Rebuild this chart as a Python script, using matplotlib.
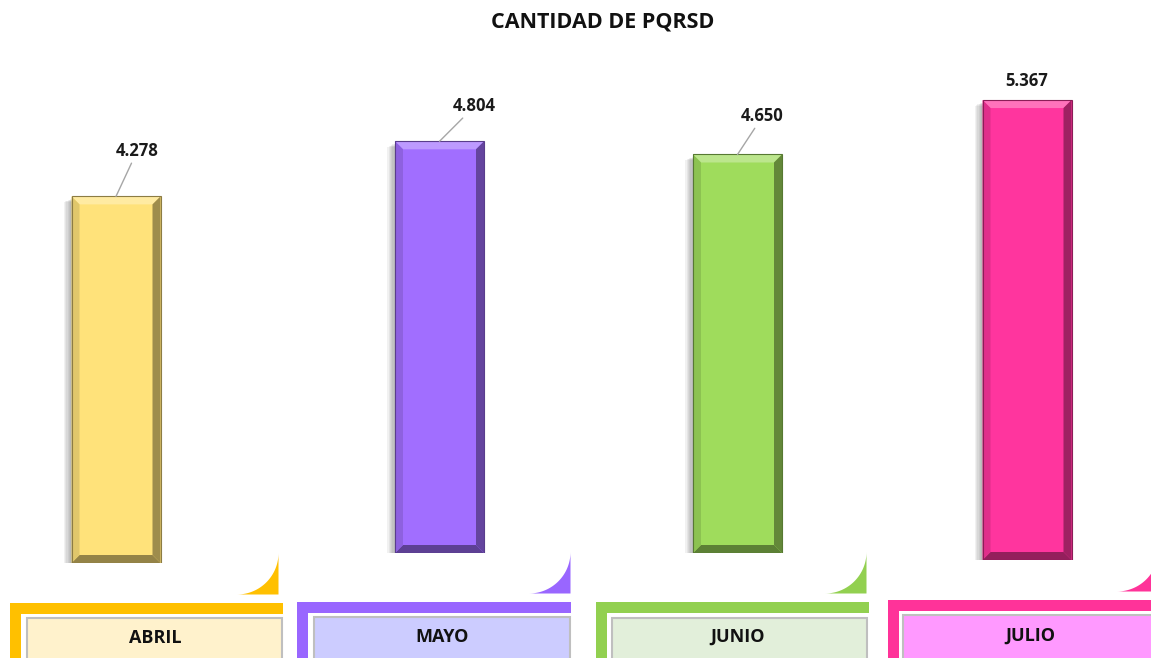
import numpy as np
import matplotlib
matplotlib.use("Agg")
import matplotlib.pyplot as plt
from matplotlib.patches import Rectangle, Polygon
import matplotlib.colors as mcolors

plt.rcParams['font.family'] = ['Open Sans', 'DejaVu Sans']

# datos
meses = ["ABRIL", "MAYO", "JUNIO", "JULIO"]
cantidades = [4.278, 4.804, 4.650, 5.367]
etiquetas = ["4.278", "4.804", "4.650", "5.367"]

# colores
color_barra = ["#FFE27A", "#A16EFF", "#9FDC5C", "#FF359E"]
color_marco = ["#FFC000", "#9966FF", "#92D050", "#FF3399"]
color_caja = ["#FFF2CC", "#CCCCFF", "#E2EFDA", "#FF99FF"]

W, H = 1151, 658
PX = 85.7  # pixeles por unidad
YMAX = 6.0

# layout (pixeles de la figura)
centros = [116, 439.5, 737.5, 1027]
bases = [563, 553, 553, 560]
offs_etiqueta = [(21, 45), (35, 35), (25, 38), (0, 19)]
con_linea = [True, True, True, False]
marcos = [(10, 283, 603), (297, 571, 602), (596, 869, 602), (888, 1165, 600)]
cajas = [(27, 282, 618), (314, 570, 617), (612, 867, 618), (903, 1165, 615)]
esquinas = [(237, 553), (529, 552), (825, 552), (1117, 550)]
pos_texto = [(155, 638), (442, 637), (738, 637), (1030, 636)]


def mezcla(c, otro, f):
    a = np.array(mcolors.to_rgb(c))
    b = np.array(mcolors.to_rgb(otro))
    return tuple(a * (1 - f) + b * f)


fig = plt.figure(figsize=(W / 100, H / 100), dpi=100)
bg = fig.add_axes([0, 0, 1, 1])
bg.set_xlim(0, W)
bg.set_ylim(H, 0)
bg.axis("off")

fig.text(603 / W, 1 - 22 / H, "CANTIDAD DE PQRSD", ha="center", va="center",
         fontsize=15.5, fontweight="bold", color="#111111")

# cajas de abajo
for i in range(4):
    x0, x1, yt = marcos[i]
    bg.add_patch(Rectangle((x0, yt), x1 - x0, 11, color=color_marco[i], lw=0))
    bg.add_patch(Rectangle((x0, yt), 11.5, H - yt + 5, color=color_marco[i], lw=0))
    c0, c1, ct = cajas[i]
    bg.add_patch(Rectangle((c0, ct), c1 - c0, H - ct + 10, facecolor=color_caja[i],
                           edgecolor="#BFBFBF", lw=1.5))
    ex, ey = esquinas[i]
    r = 41.5
    t = np.linspace(np.pi / 2, 0, 40)
    pts = list(zip(ex + r * np.cos(t), ey + r * np.sin(t))) + [(ex + r, ey + r)]
    bg.add_patch(Polygon(pts, closed=True, color=color_marco[i], lw=0))
    bg.text(pos_texto[i][0], pos_texto[i][1], meses[i], ha="center", va="center",
            fontsize=13, fontweight="bold", color="#111111")

# barras
for i in range(4):
    ancho_ax = 280
    ax = fig.add_axes([(centros[i] - ancho_ax / 2) / W, (H - bases[i]) / H,
                       ancho_ax / W, YMAX * PX / H])
    ax.set_xlim(-0.5, 0.5)
    ax.set_ylim(0, YMAX)
    ax.axis("off")
    ax.patch.set_alpha(0)

    bw = 89 / ancho_ax
    barra = ax.bar([0], [cantidades[i]], width=bw, color=color_barra[i], lw=0, zorder=3)[0]
    x0 = barra.get_x()
    x1 = x0 + barra.get_width()
    y0 = 0
    y1 = barra.get_height()

    # sombra suave a la izquierda
    sx = 1.3 / ancho_ax
    sy = 0.6 / PX
    for k in range(1, 7):
        ax.add_patch(Rectangle((x0 - k * sx, y0 - k * sy), x1 - x0, y1 - y0 - 2 / PX,
                               color="#404040", alpha=0.07, lw=0, zorder=2))

    bx = 8 / ancho_ax
    by = 8 / PX
    c = color_barra[i]
    arriba = [(x0, y1), (x1, y1), (x1 - bx, y1 - by), (x0 + bx, y1 - by)]
    abajo = [(x0, y0), (x1, y0), (x1 - bx, y0 + by), (x0 + bx, y0 + by)]
    izq = [(x0, y0), (x0, y1), (x0 + bx, y1 - by), (x0 + bx, y0 + by)]
    der = [(x1, y0), (x1, y1), (x1 - bx, y1 - by), (x1 - bx, y0 + by)]
    ax.add_patch(Polygon(arriba, color=mezcla(c, "white", 0.3), lw=0, zorder=4))
    ax.add_patch(Polygon(abajo, color=mezcla(c, "black", 0.42), lw=0, zorder=4))
    ax.add_patch(Polygon(izq, color=mezcla(c, "black", 0.12), lw=0, zorder=4))
    ax.add_patch(Polygon(der, color=mezcla(c, "black", 0.38), lw=0, zorder=5))
    # borde fino
    ax.add_patch(Rectangle((x0, y0), x1 - x0, y1 - y0, fill=False,
                           edgecolor=mezcla(c, "black", 0.45), lw=0.8, zorder=6))

    props = dict(arrowstyle="-", color="#A6A6A6", lw=1, shrinkA=0, shrinkB=0) if con_linea[i] else None
    ax.annotate(etiquetas[i], xy=(0, y1), xytext=offs_etiqueta[i], textcoords="offset pixels",
                ha="center", va="center", fontsize=12, fontweight="bold", color="#1a1a1a",
                arrowprops=props, annotation_clip=False, zorder=7)

fig.savefig("out.png", dpi=100)
